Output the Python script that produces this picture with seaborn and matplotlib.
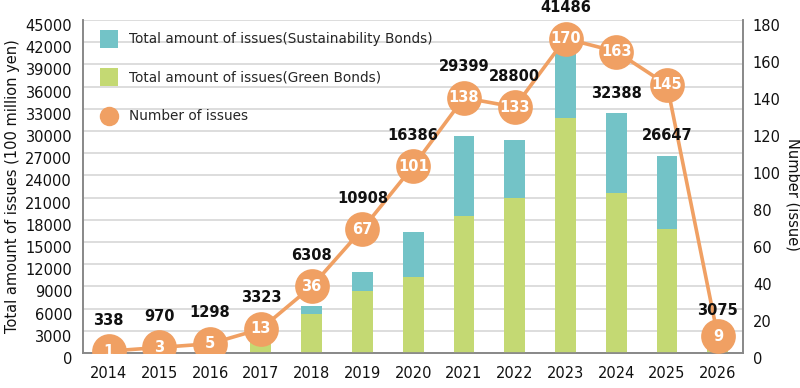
import numpy as np
import pandas as pd
import matplotlib
matplotlib.use("Agg")
import matplotlib.pyplot as plt
import matplotlib.transforms as mtransforms
from matplotlib.lines import Line2D
import seaborn as sns

# ==========================================
# Data
# ==========================================

years = ["2014", "2015", "2016", "2017", "2018", "2019", "2020",
         "2021", "2022", "2023", "2024", "2025", "2026"]
total_amount = [338, 970, 1298, 3323, 6308, 10908, 16386,
                29399, 28800, 41486, 32388, 26647, 3075]
green_amount = [338, 970, 1298, 2900, 5300, 8350, 10300,
                18500, 20900, 31750, 21600, 16800, 3075]
num_issues = [1, 3, 5, 13, 36, 67, 101, 138, 133, 170, 163, 145, 9]

teal = "#73C3C7"
green = "#C4D973"
orange = "#F0A063"
text_col = "#111111"

df = pd.DataFrame({"year": years, "total": total_amount,
                   "green": green_amount, "count": num_issues})

# ==========================================
# Plot
# ==========================================

sns.set_theme(style="white")
plt.rcParams["font.family"] = ["DejaVu Sans"]

fig = plt.figure(figsize=(8, 3.88), dpi=100)
ax = fig.add_axes([0.104, 0.0902, 0.825, 0.858])

# stacked bars: total (sustainability on top) then green in front
sns.barplot(data=df, x="year", y="total", color=teal, width=0.41,
            saturation=1, linewidth=0, ax=ax, zorder=2)
sns.barplot(data=df, x="year", y="green", color=green, width=0.41,
            saturation=1, linewidth=0, ax=ax, zorder=3)

ax.set_ylim(0, 45000)
ax.set_xlim(-0.5, len(years) - 0.5)
ax.set_yticks(np.arange(0, 45001, 3000))
ax.yaxis.grid(True, color="#DDDDDD", linewidth=1.4, zorder=0)
ax.set_axisbelow(True)
ax.set_xlabel("")
ax.set_ylabel("Total amount of issues (100 million yen)", fontsize=10.5,
              color=text_col, labelpad=4)

# number of issues on the right axis
ax2 = ax.twinx()
sns.lineplot(x=np.arange(len(years)), y=num_issues, color=orange,
             linewidth=2.6, marker="o", markersize=25, markeredgewidth=0,
             ax=ax2, zorder=4)
ax2.set_ylim(0, 180)
ax2.set_yticks(np.arange(0, 181, 20))
ax2.set_ylabel("Number (issue)", fontsize=10.5, color=text_col, rotation=270)
ax2.yaxis.label.set_va("center")
ax2.yaxis.label.set_ha("center")
ax2.yaxis.set_label_coords(1.076, 0.475)

for a in [ax, ax2]:
    a.spines["top"].set_visible(False)
    for s in ["left", "right", "bottom"]:
        a.spines[s].set_color("#888888")
        a.spines[s].set_linewidth(1.2)

# x ticks: year labels, small inward marks between categories
ax.tick_params(axis="x", which="major", length=0, pad=9,
               labelsize=10.5, labelcolor=text_col)
ax.set_xticks(np.arange(0.5, len(years) - 1, 1), minor=True)
ax.tick_params(axis="x", which="minor", direction="in", length=6,
               width=1, color="#777777")
ax.tick_params(axis="y", length=0, labelsize=10.5, labelcolor=text_col, pad=8)
ax2.tick_params(axis="y", length=0, labelsize=10.5, labelcolor=text_col, pad=7)

shift = mtransforms.ScaledTranslation(0, -5 / 100, fig.dpi_scale_trans)
for lbl in ax.get_yticklabels() + ax2.get_yticklabels():
    lbl.set_transform(lbl.get_transform() + shift)

# numbers inside circles and totals above
peak = int(np.argmax(num_issues))
for i, (tot, cnt) in enumerate(zip(total_amount, num_issues)):
    ax2.text(i, cnt, str(cnt), color="white", fontsize=10.5,
             fontweight="bold", ha="center", va="center", zorder=6)
    if i > peak:
        # after the peak the totals sit just above the bars
        ax2.annotate(f"{tot}", xy=(i, tot), xycoords=ax.transData,
                     xytext=(0, 20), textcoords="offset pixels",
                     ha="center", va="center", fontsize=10.5,
                     fontweight="bold", color=text_col, zorder=7)
    else:
        ax2.annotate(f"{tot}", xy=(i, cnt), xytext=(0, 31),
                     textcoords="offset pixels", ha="center", va="center",
                     fontsize=10.5, fontweight="bold", color=text_col,
                     zorder=7)

handles = [
    Line2D([], [], linestyle="none", marker="s", markersize=13.5,
           markerfacecolor=teal, markeredgewidth=0),
    Line2D([], [], linestyle="none", marker="s", markersize=13.5,
           markerfacecolor=green, markeredgewidth=0),
    Line2D([], [], linestyle="none", marker="o", markersize=14,
           markerfacecolor=orange, markeredgewidth=0),
]
labels = ["Total amount of issues(Sustainability Bonds)",
          "Total amount of issues(Green Bonds)",
          "Number of issues"]
leg = ax2.legend(handles, labels, loc="upper left",
                 bbox_to_anchor=(0.0, 1.0), frameon=False, fontsize=9.8,
                 labelspacing=1.8, handletextpad=0.45, borderaxespad=0.5,
                 borderpad=0.4)
leg.set_zorder(10)

fig.savefig("out.png", dpi=100)
